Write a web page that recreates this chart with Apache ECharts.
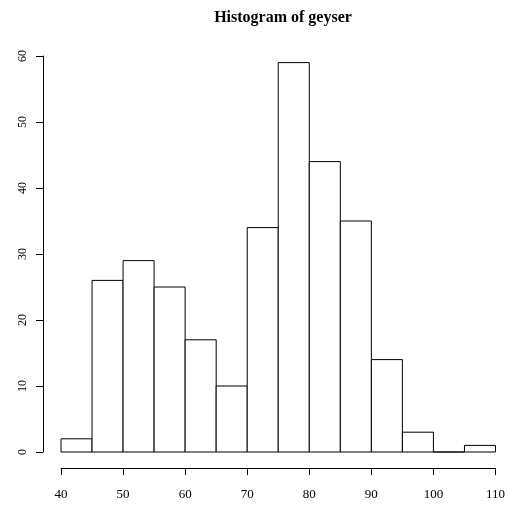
<!DOCTYPE html>
<html>
<head>
<meta charset="utf-8">
<script src="https://cdn.jsdelivr.net/npm/echarts@6/dist/echarts.min.js"></script>
<style>
html,body{margin:0;padding:0;background:#fff;}
#c{width:508px;height:506px;}
</style>
</head>
<body>
<div id="c"></div>
<script>
var titleText = 'Histogram of geyser';
var binLower = [40, 45, 50, 55, 60, 65, 70, 75, 80, 85, 90, 95, 100, 105];
var binUpper = [45, 50, 55, 60, 65, 70, 75, 80, 85, 90, 95, 100, 105, 110];
var counts   = [2, 26, 29, 25, 17, 10, 34, 59, 44, 35, 14, 3, 0, 1];
var xTicks = [40, 50, 60, 70, 80, 90, 100, 110];
var yTicks = [0, 10, 20, 30, 40, 50, 60];

var data = binLower.map(function (lo, i) { return [lo, binUpper[i], counts[i]]; });

var chart = echarts.init(document.getElementById('c'), null, {renderer: 'canvas'});
var font = '"Liberation Serif", "DejaVu Serif", serif';
chart.setOption({
  backgroundColor: '#ffffff',
  animation: false,
  title: {
    text: titleText,
    left: 278, top: 5, textAlign: 'center',
    textStyle: {fontFamily: font, fontWeight: 'bold', fontSize: 16, color: '#000'}
  },
  grid: {left: 61, right: 11, top: 56, bottom: 54, containLabel: false},
  xAxis: {
    type: 'value',
    min: xTicks[0], max: xTicks[xTicks.length - 1], interval: 10,
    offset: 16,
    axisLine: {show: true, onZero: false, lineStyle: {color: '#000', width: 1}},
    axisTick: {show: true, length: 7, lineStyle: {color: '#000'}},
    axisLabel: {margin: 20, color: '#000', fontFamily: font, fontSize: 13},
    splitLine: {show: false}
  },
  yAxis: {
    type: 'value',
    min: yTicks[0], max: yTicks[yTicks.length - 1], interval: 10,
    offset: 18,
    axisLine: {show: true, lineStyle: {color: '#000', width: 1}},
    axisTick: {show: true, length: 7, lineStyle: {color: '#000'}},
    axisLabel: {rotate: 90, margin: 14, color: '#000', fontFamily: font, fontSize: 12},
    splitLine: {show: false}
  },
  series: [{
    type: 'custom',
    data: data,
    encode: {x: [0, 1], y: 2},
    renderItem: function (params, api) {
      var p0 = api.coord([api.value(0), 0]);
      var p1 = api.coord([api.value(1), api.value(2)]);
      return {
        type: 'rect',
        shape: {x: p0[0], y: p1[1], width: p1[0] - p0[0], height: p0[1] - p1[1]},
        style: {fill: '#fff', stroke: '#000', lineWidth: 1}
      };
    }
  }]
});
</script>
</body>
</html>
